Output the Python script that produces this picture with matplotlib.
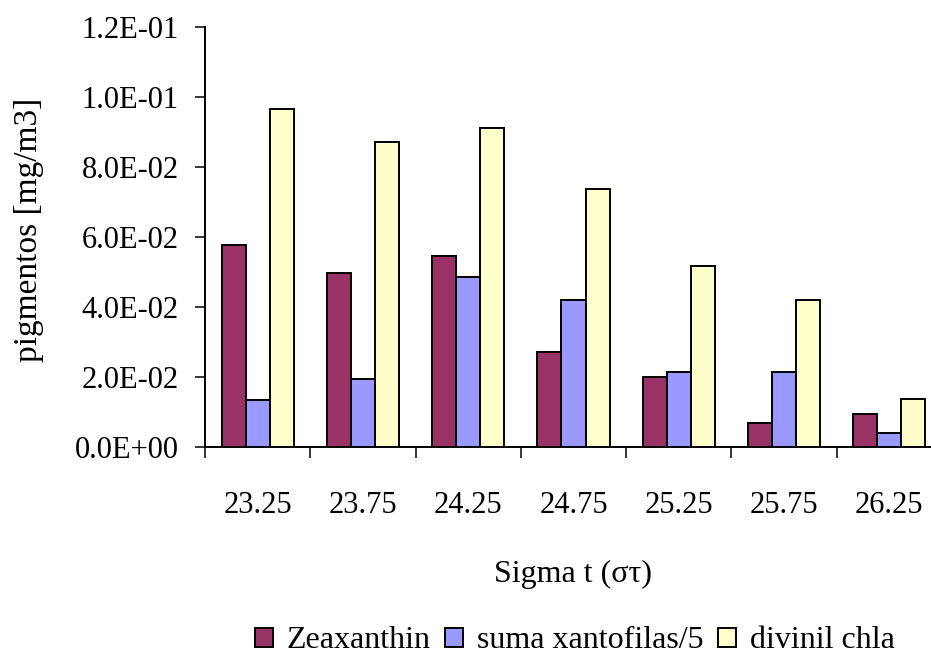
import numpy as np
import matplotlib
matplotlib.use('Agg')
import matplotlib.pyplot as plt
from matplotlib.ticker import FixedLocator, FuncFormatter

plt.rcParams['font.family'] = ['Liberation Serif', 'DejaVu Serif']

# clases de sigma-t y concentraciones de pigmentos (mg/m3)
sigma_t = ['23.25', '23.75', '24.25', '24.75', '25.25', '25.75', '26.25']
zeaxanthin = [0.0577, 0.0496, 0.0546, 0.0272, 0.0201, 0.0068, 0.0094]
xantofilas_5 = [0.0133, 0.0195, 0.0487, 0.0420, 0.0214, 0.0214, 0.0039]
divinil_chla = [0.0965, 0.0872, 0.0912, 0.0738, 0.0518, 0.0420, 0.0137]

series = [
    ('Zeaxanthin', zeaxanthin, '#993366'),
    ('suma xantofilas/5', xantofilas_5, '#9999FF'),
    ('divinil chla', divinil_chla, '#FFFFCC'),
]

fig = plt.figure(figsize=(9.31, 6.58), dpi=100)
# el area de trazado sobrepasa un poco el borde derecho
ax = fig.add_axes([205 / 931, 1 - 447 / 658, 737 / 931, 420 / 658])

x = np.arange(len(sigma_t))
w = 0.228
for i, (name, vals, col) in enumerate(series):
    ax.bar(x + (i - 1) * w, vals, width=w, color=col, edgecolor='black',
           linewidth=1.4, label=name, zorder=3)

ax.set_xlim(-0.5, len(sigma_t) - 0.5)
ax.set_ylim(0, 0.12)
ax.set_yticks(np.arange(0, 0.121, 0.02))
ax.yaxis.set_major_formatter(FuncFormatter(lambda v, p: '{:.1E}'.format(v)))

ax.set_xticks(x)
ax.set_xticklabels(sigma_t)
ax.xaxis.set_minor_locator(FixedLocator(np.arange(-0.5, len(sigma_t), 1.0)))
ax.tick_params(axis='x', which='major', length=0, pad=32, labelsize=22)
ax.tick_params(axis='x', which='minor', length=8, width=1.1, direction='out')
ax.tick_params(axis='y', length=7, width=1.1, pad=12, labelsize=22)

for s in ['top', 'right']:
    ax.spines[s].set_visible(False)
for s in ['left', 'bottom']:
    ax.spines[s].set_linewidth(1.4)

ax.set_ylabel('pigmentos [mg/m3]', fontsize=24)
ax.yaxis.set_label_coords(-0.219, 0.517)
ax.set_xlabel('Sigma t (στ)', fontsize=23)
ax.xaxis.set_label_coords(0.5, -0.268)

fig.legend(loc='center', bbox_to_anchor=(575 / 931, 1 - 641 / 658), ncol=3,
           frameon=False, fontsize=23, handlelength=0.55, handleheight=0.55,
           handletextpad=0.45, columnspacing=0.45, borderaxespad=0)

plt.savefig('out.png', dpi=100, facecolor='white')
plt.close()
